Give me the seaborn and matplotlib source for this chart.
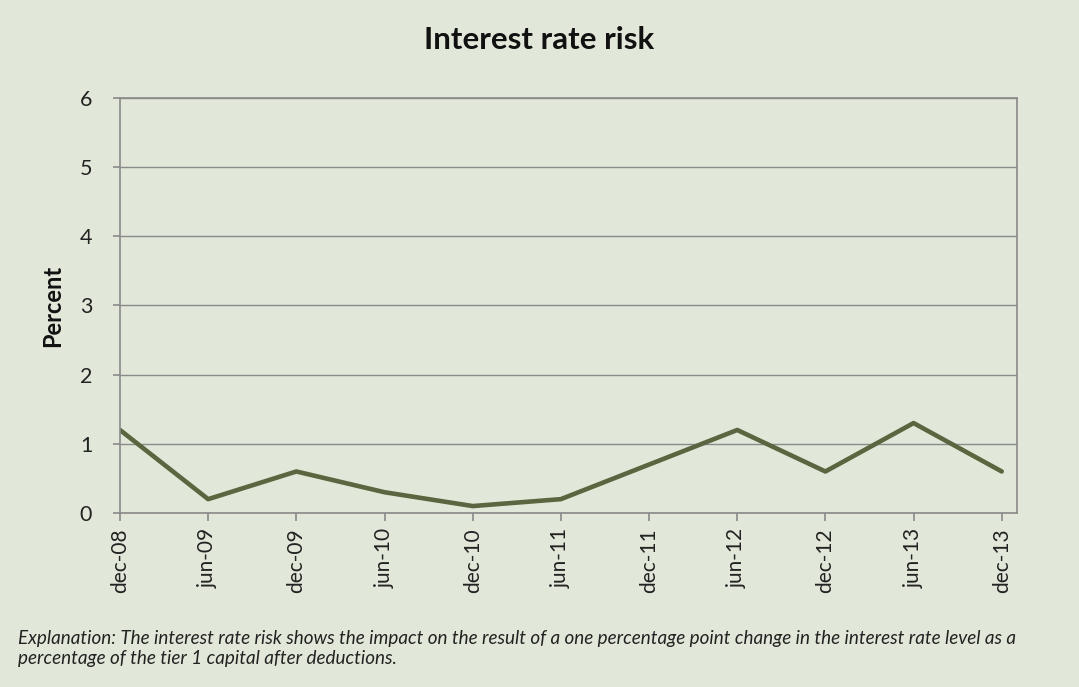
import matplotlib
matplotlib.use("Agg")
import matplotlib.pyplot as plt
import seaborn as sns
import pandas as pd

periods = ["dec-08", "jun-09", "dec-09", "jun-10", "dec-10", "jun-11",
           "dec-11", "jun-12", "dec-12", "jun-13", "dec-13"]
risk_pct = [1.2, 0.2, 0.6, 0.3, 0.1, 0.2, 0.7, 1.2, 0.6, 1.3, 0.6]
y_ticks = [0, 1, 2, 3, 4, 5, 6]

bg = "#e2e8d9"
line_color = "#5a6640"
grid_color = "#8a8a8a"

sns.set_theme(style="white")
plt.rcParams["font.family"] = ["Lato", "DejaVu Sans"]

df = pd.DataFrame({"idx": range(len(periods)), "period": periods, "risk": risk_pct})

fig = plt.figure(figsize=(10.79, 6.87), dpi=100, facecolor=bg)
ax = fig.add_axes([0.1112, 0.2533, 0.8311, 0.6041])
ax.set_facecolor(bg)

sns.lineplot(data=df, x="idx", y="risk", ax=ax, color=line_color, linewidth=3.3)

ax.set_xlim(0, 10.17)
ax.set_ylim(0, 6)
ax.set_yticks(y_ticks)
ax.set_yticklabels([str(t) for t in y_ticks], fontsize=15.5, color="#222222")
ax.set_xticks(df["idx"])
ax.set_xticklabels(periods, rotation=90, fontsize=15, color="#222222")
ax.yaxis.grid(True, color=grid_color, linewidth=1.0)
ax.set_axisbelow(True)
ax.tick_params(axis="x", which="both", direction="out", length=6, width=1.2,
               color=grid_color, bottom=True, pad=5)
ax.tick_params(axis="y", which="both", direction="out", length=5, width=1.2,
               color=grid_color, left=True, pad=15)
for s in ax.spines.values():
    s.set_color(grid_color)
    s.set_linewidth(1.2)

ax.set_xlabel("")
ax.set_ylabel("Percent", fontsize=17, fontweight="bold", color="#111111", labelpad=11)

fig.text(0.5, 0.942, "Interest rate risk", ha="center", va="center",
         fontsize=22.5, fontweight="bold", color="#111111")

note_lines = [
    "Explanation: The interest rate risk shows the impact on the result of a one "
    "percentage point change in the interest rate level as a",
    "percentage of the tier 1 capital after deductions.",
]
for line, y in zip(note_lines, [0.0713, 0.0422]):
    fig.text(0.017, y, line, ha="left", va="center", fontsize=13.6,
             style="italic", color="#222222")

fig.savefig("out.png", dpi=100, facecolor=bg)
